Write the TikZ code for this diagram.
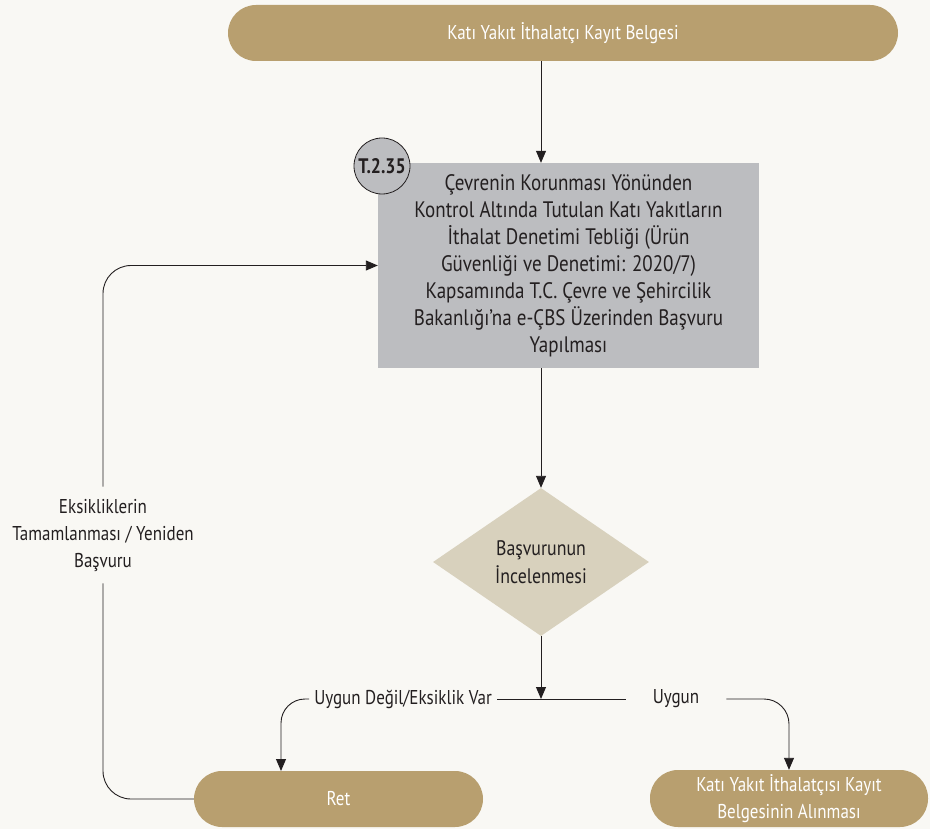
\documentclass[tikz,border=0pt]{standalone}
\usepackage{fontspec}
\setmainfont{PT Sans}[FakeStretch=0.85]
\usepackage{xcolor}
\usetikzlibrary{arrows.meta,positioning,shapes.geometric}
\definecolor{cbgold}{HTML}{B89F6F}
\definecolor{cbgrey}{HTML}{BCBDC0}
\definecolor{cbsand}{HTML}{D8D1BD}
\definecolor{cbink}{HTML}{231F20}
\definecolor{cbpaper}{HTML}{F9F8F4}

\begin{document}
\begin{tikzpicture}[
    x=1pt, y=-1pt,
    font=\fontsize{20}{27}\selectfont,
    pill/.style={fill=cbgold, text=white, rounded corners=28pt, minimum height=56pt, align=center, inner sep=0pt},
    procbox/.style={fill=cbgrey, text=cbink, minimum width=381pt, minimum height=205pt, align=center, inner sep=0pt, font=\fontsize{22.4}{27}\selectfont},
    decision/.style={diamond, fill=cbsand, text=cbink, aspect=1.46, minimum width=216pt, minimum height=148pt, align=center, inner sep=0pt, font=\fontsize{21}{28}\selectfont},
    tag/.style={circle, draw=cbink, line width=0.8pt, fill=cbgrey, text=cbink, minimum size=56pt, inner sep=0pt, font=\fontsize{21}{22}\selectfont\bfseries},
    label/.style={text=cbink, align=center, inner sep=5pt},
    line/.style={draw=cbink, line width=0.9pt},
    arrow/.style={line, -{Triangle[length=12pt, width=10pt]}}
  ]
    \useasboundingbox[fill=cbpaper] (0,0) rectangle (930,829);
    \node[pill, minimum width=670pt] (belge) at (563,33) {Katı Yakıt İthalatçı Kayıt Belgesi};
    \node[procbox] (basvuru) at (568.5,265.5) {Çevrenin Korunması Yönünden\\Kontrol Altında Tutulan Katı Yakıtların\\İthalat Denetimi Tebliği (Ürün\\Güvenliği ve Denetimi: 2020/7)\\Kapsamında T.C. Çevre ve Şehircilik\\Bakanlığı’na e-ÇBS Üzerinden Başvuru\\Yapılması};
    \node[tag] (tno) at (382,166) {T.2.35};
    \node[decision] (inceleme) at (541,562) {Başvurunun\\İncelenmesi};
    \coordinate (kavsak) at (541,699);
    \node[label, anchor=east] (uygundegil) at (497,699) {Uygun Değil/Eksiklik Var};
    \node[label] (uygun) at (676,699) {Uygun};
    \node[label, inner ysep=12pt] (eksik) at (103,535) {Eksikliklerin\\Tamamlanması / Yeniden\\Başvuru};
    \node[pill, minimum width=289pt] (ret) at (338.5,799) {Ret};
    \node[pill, minimum width=278pt, minimum height=57pt] (alinma) at (789,798.5) {Katı Yakıt İthalatçısı Kayıt\\Belgesinin Alınması};
    \coordinate (retgiris) at (281,771);

    \path[arrow] (inceleme |- belge.south) -- (inceleme |- basvuru.north);
    \path[arrow] (inceleme |- basvuru.south) -- (inceleme.north);
    \path[arrow] (inceleme.south) -- (kavsak);
    \path[line] (uygundegil.east) -- ([xshift=-22pt]uygun.west);
    \path[arrow, rounded corners=25pt] ([xshift=22pt]uygun.east) -| (alinma.north);
    \path[arrow, rounded corners=24pt] (uygundegil.west) -| (retgiris);
    \path[line, rounded corners=28pt] (ret.west) -| (eksik.south);
    \path[arrow, rounded corners=28pt] (eksik.north) |- (basvuru.west);
  \end{tikzpicture}
\end{document}
